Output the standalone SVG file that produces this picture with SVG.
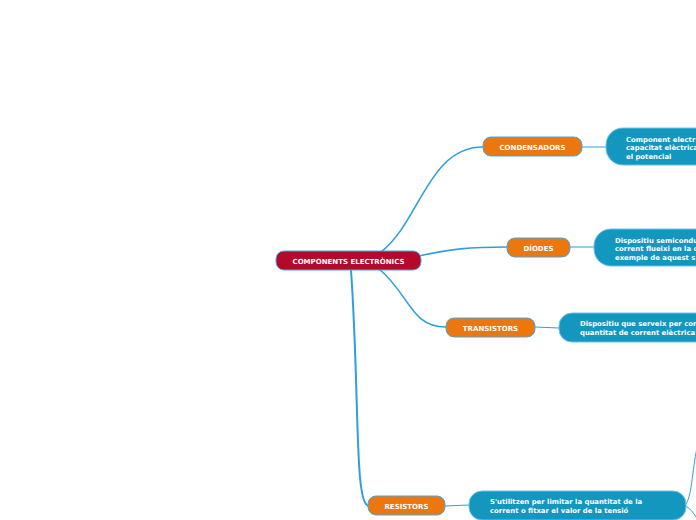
<svg xmlns="http://www.w3.org/2000/svg" width="696" height="520" viewBox="0 0 696 520">
<style>
.root{fill:#b4092b;stroke:#4aa8e0;stroke-width:1}
.main{fill:#ec770f;stroke:#4aa8e0;stroke-width:1}
.desc{fill:#1497be;stroke:#6cc0ea;stroke-width:1}
.lbl{font-family:"DejaVu Sans",Verdana,sans-serif;font-weight:bold;font-size:7px;fill:#ffffff;text-anchor:middle}
.dtx{font-family:"DejaVu Sans",Verdana,sans-serif;font-weight:bold;font-size:6.9px;fill:#ffffff}
.con{fill:none;stroke:#2f9ee0;stroke-linecap:round}
</style>
<rect width="696" height="520" fill="#ffffff"/>
<g id="connectors">
<path class="con" stroke-width="1.6" d="M381,252 C420,222 428,147 483,147"/>
<path class="con" stroke-width="1.6" d="M419,256 C450,249 470,247 507,247"/>
<path class="con" stroke-width="1.6" d="M378,268 C410,294 410,327 446,327"/>
<path class="con" stroke-width="2" d="M351,270 C360,400 354,506 369,506"/>
<path class="con" stroke-width="1.2" d="M582,147 L606,147"/>
<path class="con" stroke-width="1.2" d="M570,247 L594,247"/>
<path class="con" stroke-width="1.2" d="M535,327 L559,328"/>
<path class="con" stroke-width="1.2" d="M445,506 L469,505"/>
<path class="con" stroke-width="1" d="M685,505 C692,499 692,470 697,448"/>
<path class="con" stroke-width="1" d="M685,506 C690,508 693,512 698,520"/>
</g>
<g id="root">
<rect class="root" x="276" y="251" width="145" height="19" rx="8"/>
<text class="lbl" x="348.5" y="263.5">COMPONENTS ELECTRÒNICS</text>
</g>
<g id="condensadors">
<rect class="main" x="483" y="137" width="99" height="19" rx="8"/>
<text class="lbl" x="532.5" y="149.5">CONDENSADORS</text>
</g>
<g id="condensadors-desc">
<rect class="desc" x="606" y="128" width="120" height="37" rx="17"/>
<text class="dtx" x="626" y="141.5">Component electr</text>
<text class="dtx" x="626" y="150">capacitat elèctrica</text>
<text class="dtx" x="626" y="158.5">el potencial</text>
</g>
<g id="diodes">
<rect class="main" x="507" y="238" width="63" height="19" rx="8"/>
<text class="lbl" x="538.5" y="250.5">DÍODES</text>
</g>
<g id="diodes-desc">
<rect class="desc" x="594" y="229" width="130" height="37" rx="17"/>
<text class="dtx" x="615" y="242.5">Dispositiu semicondu</text>
<text class="dtx" x="615" y="251">corrent flueixi en la c</text>
<text class="dtx" x="615" y="259.5">exemple de aquest s</text>
</g>
<g id="transistors">
<rect class="main" x="446" y="318" width="89" height="19" rx="8"/>
<text class="lbl" x="490.5" y="330.5">TRANSISTORS</text>
</g>
<g id="transistors-desc">
<rect class="desc" x="559" y="313" width="160" height="29" rx="13"/>
<text class="dtx" x="580" y="326">Dispositiu que serveix per con</text>
<text class="dtx" x="580" y="335">quantitat de corrent elèctrica</text>
</g>
<g id="resistors">
<rect class="main" x="368" y="496" width="77" height="19" rx="8"/>
<text class="lbl" x="406.5" y="508.5">RESISTORS</text>
</g>
<g id="resistors-desc">
<rect class="desc" x="469" y="491" width="217" height="29" rx="13"/>
<text class="dtx" x="490" y="504">S'utilitzen per limitar la quantitat de la</text>
<text class="dtx" x="490" y="513">corrent o fitxar el valor de la tensió</text>
</g>
</svg>
